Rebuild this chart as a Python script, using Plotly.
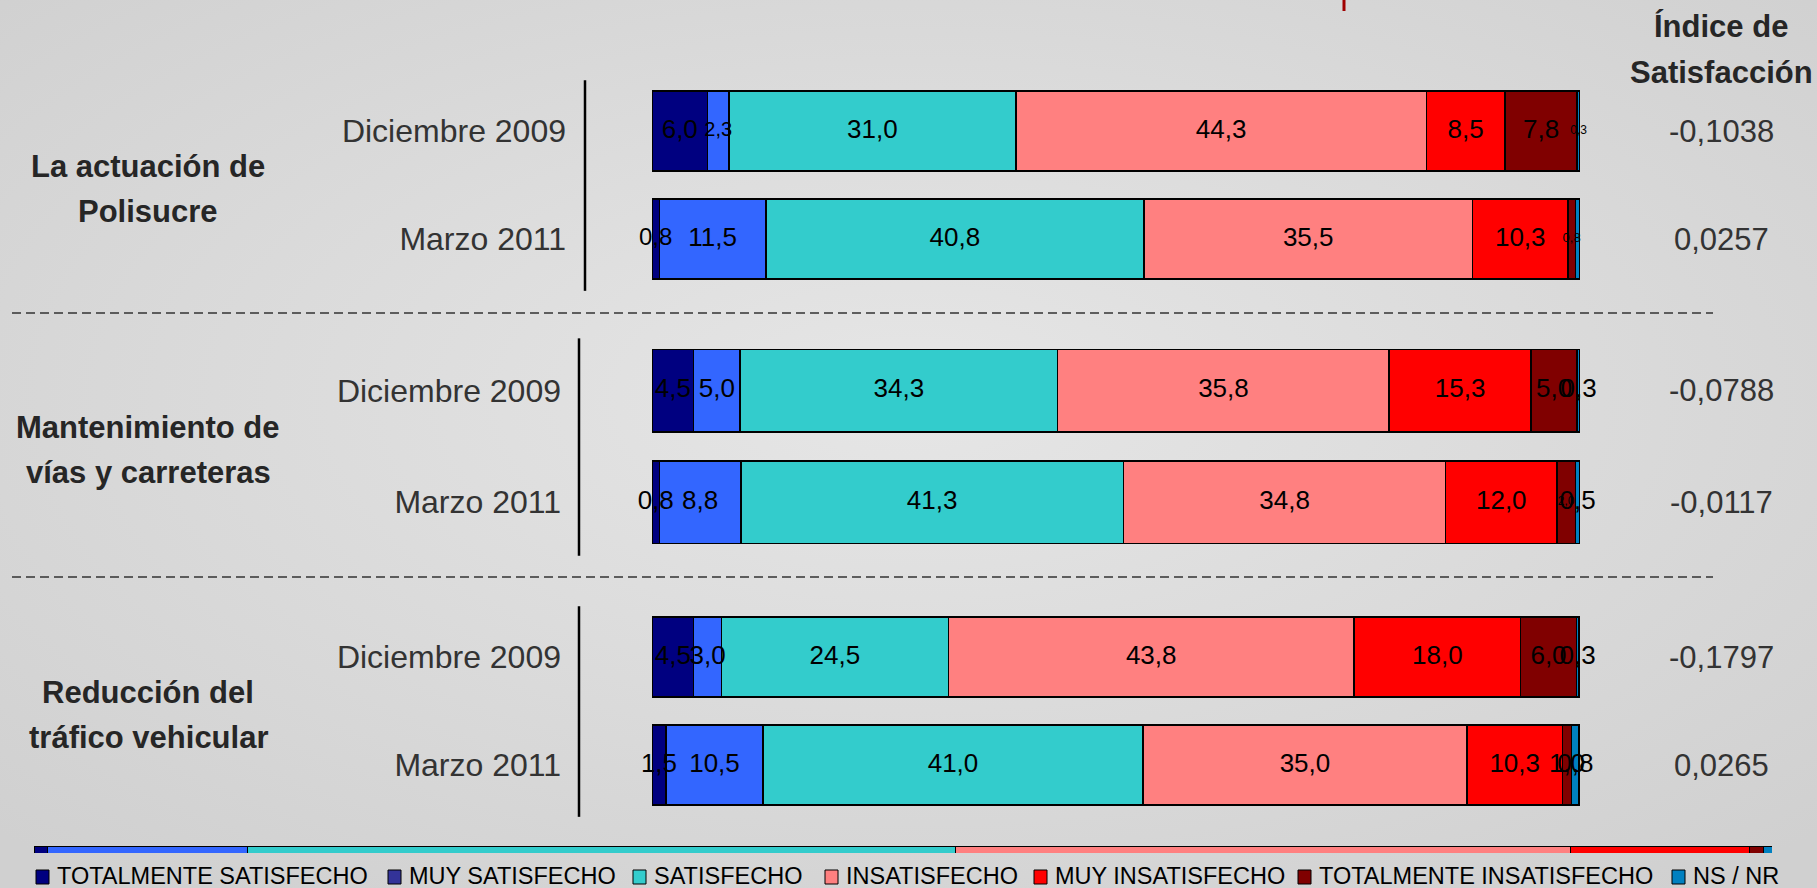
import base64
import numpy as np
import plotly.graph_objects as go

# answer categories and colours
categories = ["TOTALMENTE SATISFECHO", "MUY SATISFECHO", "SATISFECHO", "INSATISFECHO",
              "MUY INSATISFECHO", "TOTALMENTE INSATISFECHO", "NS / NR"]
colors = ["#000080", "#3366FF", "#33CCCC", "#FF8080", "#FF0000", "#800000", "#0080C0"]
legend_colors = ["#000080", "#333399", "#33CCCC", "#FF8080", "#FF0000", "#800000", "#0080C0"]

periods = ["Diciembre 2009", "Marzo 2011"]
group_titles = [["La actuación de", "Polisucre"], ["Mantenimiento de", "vías y carreteras"],
                ["Reducción del", "tráfico vehicular"]]

# percentages per period
polisucre_dic09 = [6.0, 2.3, 31.0, 44.3, 8.5, 7.8, 0.3]
polisucre_mar11 = [0.8, 11.5, 40.8, 35.5, 10.3, 0.8, 0.5]
vias_dic09 = [4.5, 5.0, 34.3, 35.8, 15.3, 5.0, 0.3]
vias_mar11 = [0.8, 8.8, 41.3, 34.8, 12.0, 2.0, 0.5]
trafico_dic09 = [4.5, 3.0, 24.5, 43.8, 18.0, 6.0, 0.3]
trafico_mar11 = [1.5, 10.5, 41.0, 35.0, 10.3, 1.0, 0.8]

# satisfaction index
indice_polisucre = [-0.1038, 0.0257]
indice_vias = [-0.0788, -0.0117]
indice_trafico = [-0.1797, 0.0265]

groups = [
    (polisucre_dic09, polisucre_mar11, indice_polisucre),
    (vias_dic09, vias_mar11, indice_vias),
    (trafico_dic09, trafico_mar11, indice_trafico),
]

# labels that are drawn smaller / hidden in the original (group, row, segment) -> size
label_size = {(0, 0, 1): 20, (0, 0, 6): 12, (0, 1, 0): 24, (0, 1, 5): 13,
              (0, 1, 6): 0, (1, 1, 5): 12}

W, H = 1817, 888
FONT = "Liberation Sans, Arial, sans-serif"


def px_x(p):
    return p / W


def px_y(p):
    return 1 - p / H


def dom_y(top, bottom):
    return [px_y(bottom), px_y(top)]


def fmt(v, d=1):
    return f"{v:.{d}f}".replace(".", ",")


group_domains = [dom_y(77, 293), dom_y(335, 558), dom_y(603, 819)]
vline_x = [585, 579, 579]
label_standoff = [85, 90, 90]
bars_x = [px_x(652), px_x(1580)]
total = 100.2

fig = go.Figure()

for g, (dic, mar, idx) in enumerate(groups):
    ax = "" if g == 0 else str(g + 1)
    rows = np.array([dic, mar])
    for c, name in enumerate(categories):
        fig.add_trace(go.Bar(
            x=rows[:, c], y=periods, orientation="h", name=name,
            marker=dict(color=colors[c], line=dict(color="#000000", width=1.5)),
            width=0.74, xaxis="x" + ax, yaxis="y" + ax,
            hoverinfo="x+name",
        ))
    # value labels centred on each segment
    mids = np.cumsum(rows, axis=1) - rows / 2
    for r in range(2):
        xs, ys, ts, ss = [], [], [], []
        for c in range(len(categories)):
            size = label_size.get((g, r, c), 26)
            if size == 0:
                continue
            xs.append(mids[r, c])
            ys.append(periods[r])
            ts.append(fmt(rows[r, c]))
            ss.append(size)
        fig.add_trace(go.Scatter(
            x=xs, y=ys, text=ts, mode="text", cliponaxis=False,
            textfont=dict(family=FONT, size=ss, color="#000000"),
            xaxis="x" + ax, yaxis="y" + ax, hoverinfo="skip",
        ))
    fig.update_layout({
        "xaxis" + ax: dict(domain=bars_x, range=[0, total], visible=False, fixedrange=True),
        "yaxis" + ax: dict(domain=group_domains[g], range=[1.5, -0.5], type="category",
                           categoryorder="array", categoryarray=periods,
                           showgrid=False, zeroline=False, showline=False,
                           ticks="", ticklabelstandoff=label_standoff[g], fixedrange=True,
                           tickfont=dict(family=FONT, size=32, color="#333333")),
    })
    # group title, two lines
    for k, line in enumerate(group_titles[g]):
        fig.add_annotation(text="<b>" + line + "</b>", xref="paper", x=px_x(148),
                           xanchor="center", yref="y" + ax + " domain", y=0.5,
                           yanchor="middle", yshift=19 - 45 * k, showarrow=False,
                           font=dict(family=FONT, size=31, color="#262626"))
    # vertical divider
    fig.add_shape(type="line", xref="paper", x0=px_x(vline_x[g]), x1=px_x(vline_x[g]),
                  yref="y" + ax + " domain", y0=0.01, y1=0.985,
                  line=dict(color="#000000", width=2.5))
    # index values
    for r in range(2):
        fig.add_annotation(text=fmt(idx[r], 4), xref="paper", x=px_x(1721),
                           xanchor="center", yref="y" + ax, y=periods[r],
                           yanchor="middle", showarrow=False,
                           font=dict(family=FONT, size=31, color="#333333"))

# thin strip bar along the bottom (repeats Marzo 2011 of Polisucre)
for c, name in enumerate(categories):
    fig.add_trace(go.Bar(
        x=[polisucre_mar11[c]], y=["strip"], orientation="h", name=name, width=1,
        marker=dict(color=colors[c], line=dict(color="#000000", width=1)),
        xaxis="x4", yaxis="y4", hoverinfo="x+name",
    ))
fig.update_layout(
    xaxis4=dict(domain=[px_x(34), px_x(1772)], range=[0, sum(polisucre_mar11)],
                visible=False, fixedrange=True),
    yaxis4=dict(domain=dom_y(846, 853), range=[-0.5, 0.5], visible=False, fixedrange=True),
)

# legend drawn by hand along the bottom edge
legend_left = [36, 388, 633, 825, 1034, 1298, 1672]
for name, col, lx in zip(categories, legend_colors, legend_left):
    fig.add_shape(type="rect", xref="paper", yref="paper",
                  x0=px_x(lx), x1=px_x(lx + 13), y0=px_y(884), y1=px_y(870),
                  fillcolor=col, line=dict(color="#000000", width=1))
    fig.add_annotation(text=name, xref="paper", yref="paper", x=px_x(lx + 19),
                       xanchor="left", y=px_y(876), yanchor="middle", showarrow=False,
                       font=dict(family=FONT, size=23.5, color="#000000"))

# dashed separators between groups
for yy in [313, 577]:
    fig.add_shape(type="line", xref="paper", yref="paper", x0=px_x(12), x1=px_x(1713),
                  y0=px_y(yy), y1=px_y(yy),
                  line=dict(color="#333333", width=1.5, dash="9px,5px"))

# small red mark at the top edge
fig.add_shape(type="line", xref="paper", yref="paper", x0=px_x(1344), x1=px_x(1344),
              y0=1, y1=px_y(11), line=dict(color="#A00000", width=3))

for k, line in enumerate(["Índice de", "Satisfacción"]):
    fig.add_annotation(text="<b>" + line + "</b>", xref="paper", yref="paper",
                       x=px_x(1721), xanchor="center", y=px_y(26 + 46 * k),
                       yanchor="middle", showarrow=False,
                       font=dict(family=FONT, size=31, color="#262626"))

# soft grey slide background
bg_svg = (
    '<svg xmlns="http://www.w3.org/2000/svg" width="1817" height="888">'
    '<defs><radialGradient id="g" cx="50%" cy="45%" r="70%">'
    '<stop offset="0%" stop-color="#e6e6e6"/><stop offset="100%" stop-color="#d0d0d0"/>'
    '</radialGradient></defs><rect width="1817" height="888" fill="url(#g)"/></svg>'
)
fig.add_layout_image(
    source="data:image/svg+xml;base64," + base64.b64encode(bg_svg.encode()).decode(),
    xref="paper", yref="paper", x=0, y=1, sizex=1, sizey=1,
    xanchor="left", yanchor="top", sizing="stretch", layer="below",
)

fig.update_layout(
    barmode="stack",
    width=W, height=H,
    margin=dict(l=0, r=0, t=0, b=0),
    paper_bgcolor="#dcdcdc",
    plot_bgcolor="rgba(0,0,0,0)",
    font=dict(family=FONT),
    showlegend=False,
)

fig.write_html("out.html", config={"displayModeBar": False},
               post_script="document.body.style.margin='0';")
